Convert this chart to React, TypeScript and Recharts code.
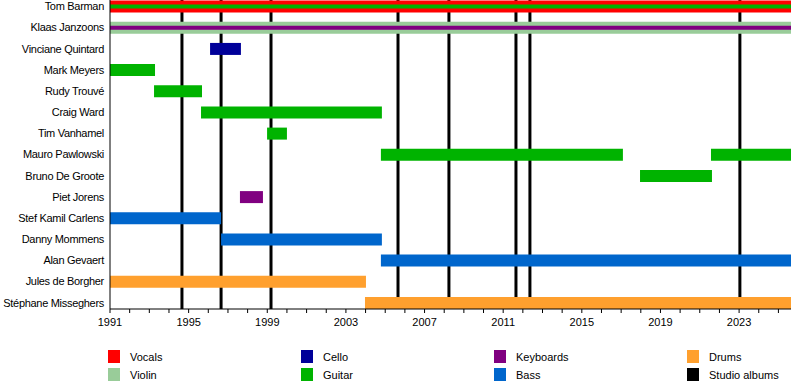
import React from 'react';
import { BarChart, Bar, XAxis, YAxis, Cell, ReferenceLine } from 'recharts';

const END = 2025.64;

const members = [
  'Tom Barman',
  'Klaas Janzoons',
  'Vinciane Quintard',
  'Mark Meyers',
  'Rudy Trouvé',
  'Craig Ward',
  'Tim Vanhamel',
  'Mauro Pawlowski',
  'Bruno De Groote',
  'Piet Jorens',
  'Stef Kamil Carlens',
  'Danny Mommens',
  'Alan Gevaert',
  'Jules de Borgher',
  'Stéphane Misseghers',
];
const roles = [
  'Vocals', 'Violin', 'Cello', 'Guitar', 'Guitar', 'Guitar', 'Guitar', 'Guitar',
  'Guitar', 'Keyboards', 'Bass', 'Bass', 'Bass', 'Drums', 'Drums',
];
const starts = [
  1991, 1991, 1996.09, 1991, 1993.24, 1995.63, 1998.99, 2004.78, 2017.96, 1997.61,
  1991, 1996.65, 2004.78, 1991, 2003.97,
];
const ends = [
  END, END, 1997.66, 1993.29, 1995.68, 2004.83, 2000.0, 2017.09, 2021.62, 1998.78,
  1996.65, 2004.83, END, 2004.02, END,
];

// second stint (Mauro back on guitar)
const secondMembers = ['Mauro Pawlowski'];
const secondStarts = [2021.57];
const secondEnds = [END];

// thin stripe for a secondary instrument
const stripeMembers = ['Tom Barman', 'Klaas Janzoons'];
const stripeRoles = ['Guitar', 'Keyboards'];

const albums = [1994.66, 1996.65, 1999.19, 2005.65, 2008.24, 2011.65, 2012.36, 2023.04];

const yearTicks = [
  1991, 1992, 1993, 1994, 1995, 1996, 1997, 1998, 1999, 2000, 2001, 2002, 2003, 2004,
  2005, 2006, 2007, 2008, 2009, 2010, 2011, 2012, 2013, 2014, 2015, 2016, 2017, 2018,
  2019, 2020, 2021, 2022, 2023, 2024, 2025,
];
const labelledYears = [1991, 1995, 1999, 2003, 2007, 2011, 2015, 2019, 2023];

const colors: Record<string, string> = {
  Vocals: '#ff0000',
  Violin: '#99cc99',
  Cello: '#000099',
  Guitar: '#00b300',
  Keyboards: '#800080',
  Bass: '#0066cc',
  Drums: '#ffa02e',
  'Studio albums': '#000000',
};
const legendOrder = [
  ['Vocals', 'Violin'],
  ['Cello', 'Guitar'],
  ['Keyboards', 'Bass'],
  ['Drums', 'Studio albums'],
];

const data = members.map((name, i) => {
  const si = secondMembers.indexOf(name);
  const ti = stripeMembers.indexOf(name);
  return {
    name,
    main: [starts[i], ends[i]],
    mainColor: colors[roles[i]],
    second: si >= 0 ? [secondStarts[si], secondEnds[si]] : undefined,
    stripe: ti >= 0 ? [1991, END] : undefined,
    stripeColor: ti >= 0 ? colors[stripeRoles[ti]] : '#000',
  };
});

const FONT = '"Liberation Sans", Arial, sans-serif';
const yPad = { top: -4.4, bottom: -4.1 };

function YearTick(props: any) {
  const { x, y, payload } = props;
  if (!labelledYears.includes(payload.value)) return <g />;
  return (
    <text x={x} y={y} dy={11} textAnchor="middle" fontSize={11} fill="#000" fontFamily={FONT}>
      {payload.value}
    </text>
  );
}

function MemberTick(props: any) {
  const { x, y, payload } = props;
  return (
    <text
      x={x}
      y={y}
      dy={4}
      textAnchor="end"
      fontSize={11}
      letterSpacing={-0.3}
      fill="#000"
      fontFamily={FONT}
    >
      {payload.value}
    </text>
  );
}

export default function App() {
  return (
    <div style={{ position: 'absolute', left: 0, top: 0, width: 800, height: 388, background: '#fff', fontFamily: FONT }}>
      <BarChart
        width={800}
        height={340}
        data={data}
        layout="vertical"
        margin={{ top: 0, right: 9, bottom: 0, left: 0 }}
      >
        <XAxis
          type="number"
          domain={[1991, END]}
          allowDataOverflow
          ticks={yearTicks}
          interval={0}
          tick={<YearTick />}
          tickSize={4}
          tickMargin={2}
          height={31}
          axisLine={{ stroke: '#000' }}
          tickLine={{ stroke: '#000' }}
        />
        <YAxis
          yAxisId="main"
          type="category"
          dataKey="name"
          width={110}
          padding={yPad}
          tickSize={0}
          tickMargin={6}
          tickLine={false}
          axisLine={{ stroke: '#000' }}
          interval={0}
          tick={<MemberTick />}
        />
        <YAxis yAxisId="second" type="category" dataKey="name" hide padding={yPad} />
        <YAxis yAxisId="stripe" type="category" dataKey="name" hide padding={yPad} />
        {albums.map((a) => (
          <ReferenceLine
            key={a}
            x={a}
            yAxisId="main"
            stroke="#000"
            strokeWidth={3}
            zIndex={100}
          />
        ))}
        <Bar dataKey="main" yAxisId="main" barSize={12} isAnimationActive={false}>
          {data.map((d) => (
            <Cell key={d.name} fill={d.mainColor} />
          ))}
        </Bar>
        <Bar dataKey="second" yAxisId="second" barSize={12} fill={colors.Guitar} isAnimationActive={false} />
        <Bar dataKey="stripe" yAxisId="stripe" barSize={4} isAnimationActive={false}>
          {data.map((d) => (
            <Cell key={d.name} fill={d.stripeColor} />
          ))}
        </Bar>
      </BarChart>

      {/* Legend */}
      {legendOrder.map((col, ci) => (
        <div key={ci} style={{ position: 'absolute', left: 108 + ci * 193, top: 350 }}>
          {col.map((role, ri) => (
            <div key={role} style={{ position: 'absolute', left: 0, top: ri * 18, width: 180, height: 14 }}>
              <div style={{ position: 'absolute', left: 0, top: 0, width: 12, height: 13, background: colors[role] }} />
              <div style={{ position: 'absolute', left: 22, top: 0, fontSize: 11, lineHeight: '14px', color: '#000', whiteSpace: 'nowrap' }}>
                {role}
              </div>
            </div>
          ))}
        </div>
      ))}
    </div>
  );
}
